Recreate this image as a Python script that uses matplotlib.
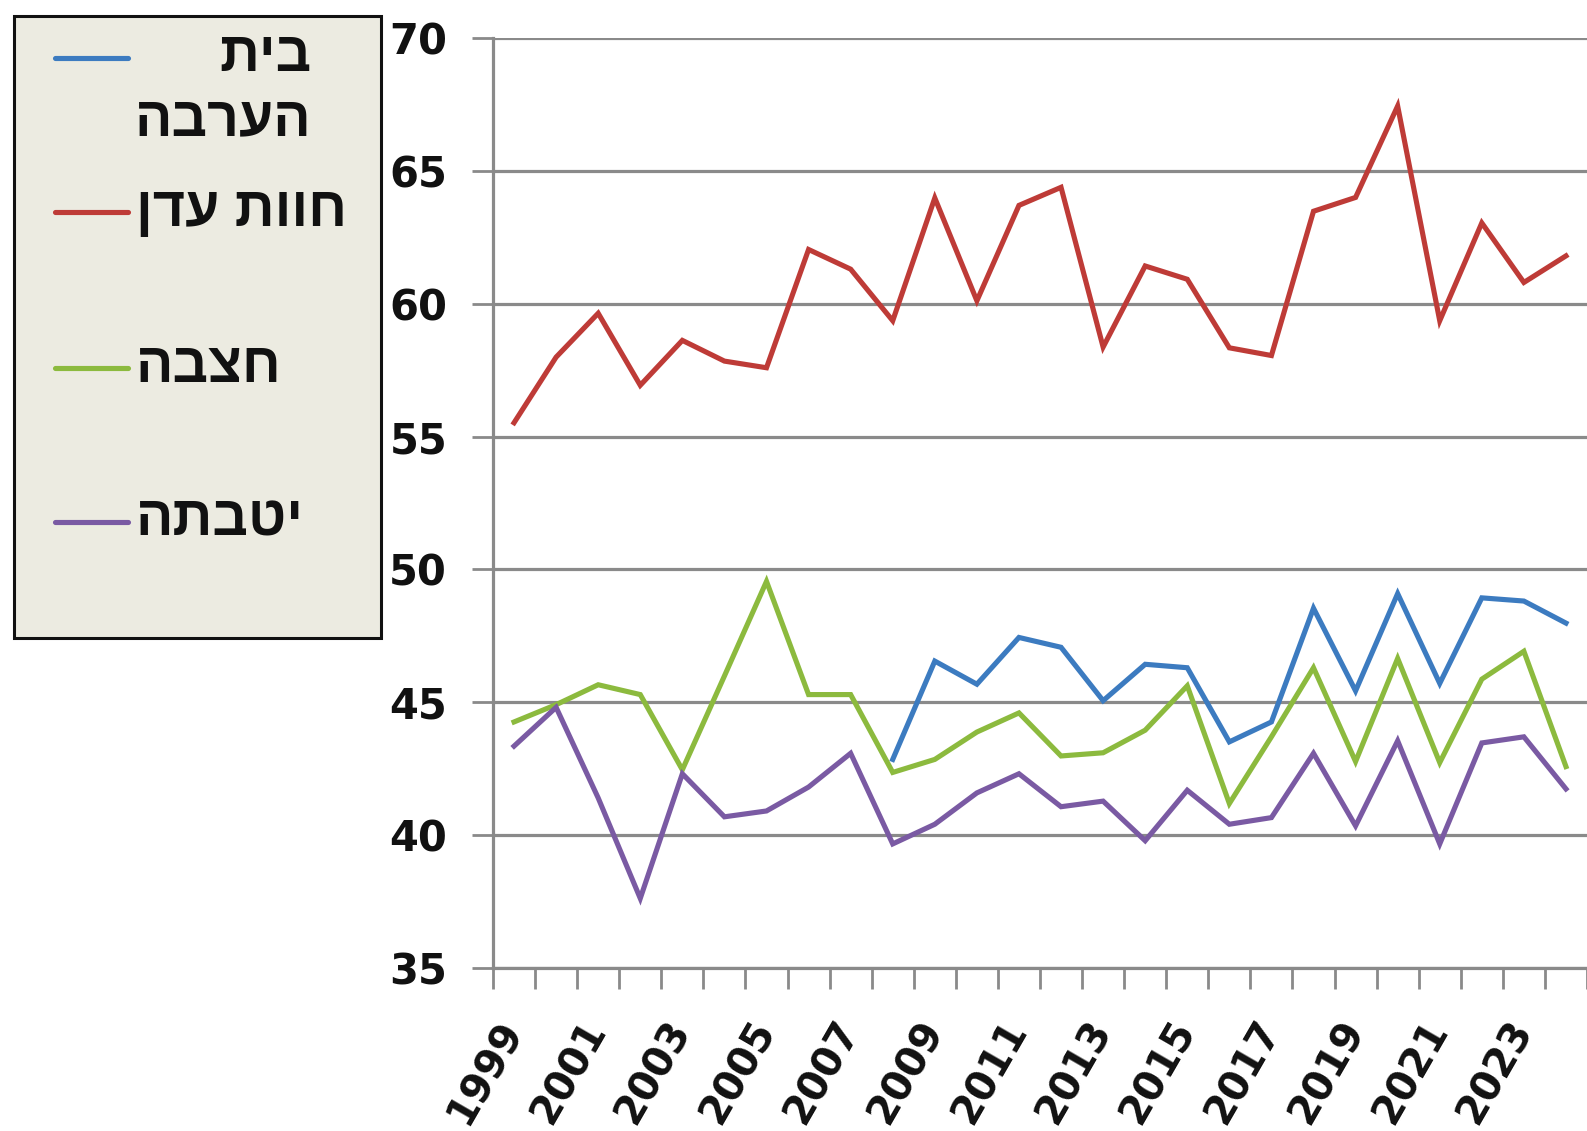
import numpy as np
import matplotlib.pyplot as plt
from matplotlib.lines import Line2D
from matplotlib.patches import Rectangle
from matplotlib.transforms import ScaledTranslation

# data
years = list(range(1999, 2025))
beit_haarava = [np.nan] * 9 + [42.85, 46.55, 45.68, 47.44, 47.07, 45.06, 46.43, 46.30, 43.51,
                               44.26, 48.54, 45.43, 49.09, 45.71, 48.93, 48.81, 47.98]
havat_eden = [55.52, 57.99, 59.64, 56.93, 58.62, 57.84, 57.59, 62.04, 61.30, 59.36, 63.98,
              60.11, 63.70, 64.38, 58.37, 61.42, 60.92, 58.34, 58.05, 63.48, 64.00, 67.44,
              59.36, 63.04, 60.80, 61.80]
hatzeva = [44.26, 44.91, 45.66, 45.29, 42.46, 45.99, 49.55, 45.29, 45.29, 42.36, 42.85,
           43.88, 44.60, 42.98, 43.10, 43.95, 45.62, 41.19, 43.70, 46.30, 42.77, 46.65,
           42.73, 45.87, 46.92, 42.58]
yotvata = [43.35, 44.81, 41.40, 37.62, 42.31, 40.69, 40.91, 41.81, 43.08, 39.67, 40.41,
           41.59, 42.31, 41.07, 41.28, 39.79, 41.69, 40.41, 40.66, 43.08, 40.35, 43.55,
           39.67, 43.47, 43.70, 41.74]

series_names = ["בית\nהערבה", "חוות עדן", "חצבה", "יטבתה"]
series_values = [beit_haarava, havat_eden, hatzeva, yotvata]
series_colors = ["#3c7bc0", "#be3b37", "#8cba3e", "#7a5aa3"]
y_ticks = [35, 40, 45, 50, 55, 60, 65, 70]


def visual(s):
    # matplotlib has no bidi support: reverse each Hebrew line for display
    return "\n".join(line[::-1] for line in s.split("\n"))


W, H = 1587, 1131
fig = plt.figure(figsize=(W / 100, H / 100), dpi=100)
ax = fig.add_axes([493 / W, 1 - 968 / H, 1 - 493 / W, (968 - 38) / H])

x = np.arange(len(years))
for vals, col in zip(series_values, series_colors):
    ax.plot(x, vals, color=col, lw=3.7, solid_joinstyle="miter", zorder=3)

grid_col = "#8a8a8a"
ax.set_ylim(35, 70)
ax.set_xlim(-0.5, len(years) - 0.5)
ax.set_yticks(y_ticks)
ax.set_yticklabels([str(v) for v in y_ticks], fontsize=30, fontweight="bold",
                   fontfamily="DejaVu Sans", color="#111111")
ax.yaxis.grid(True, color=grid_col, lw=2.3)
ax.set_axisbelow(True)

# category boundaries get tick marks, labels sit at every other category centre
ax.set_xticks(np.arange(-0.5, len(years), 1.0))
ax.set_xticklabels([])
ax.set_xticks(x[::2], minor=True)
ax.set_xticklabels([str(y) for y in years[::2]], minor=True, rotation=60,
                   ha="right", va="center", rotation_mode="anchor",
                   fontsize=29, fontweight="bold", fontfamily="DejaVu Sans",
                   color="#111111")
shift = ScaledTranslation(17 / 100, 0, fig.dpi_scale_trans)
for lbl in ax.get_xticklabels(minor=True):
    lbl.set_transform(lbl.get_transform() + shift)
ax.tick_params(axis="x", which="major", length=15, width=2, color=grid_col)
ax.tick_params(axis="x", which="minor", length=0, pad=40)
ax.tick_params(axis="y", length=15, width=2, color=grid_col, pad=18)

for side in ["top", "right"]:
    ax.spines[side].set_visible(False)
for side in ["left", "bottom"]:
    ax.spines[side].set_color(grid_col)
    ax.spines[side].set_linewidth(2.3)

# legend box drawn in figure pixels, as in the source
fig.add_artist(Rectangle((14 / W, 1 - 638 / H), (381 - 14) / W, (638 - 16) / H,
                         transform=fig.transFigure, facecolor="#ecebe1",
                         edgecolor="#111111", lw=2.2, zorder=0))
handle_y = [58, 212, 368, 522]
for name, col, hy in zip(series_names, series_colors, handle_y):
    fig.add_artist(Line2D([55 / W, 128 / W], [1 - hy / H, 1 - hy / H],
                          transform=fig.transFigure, color=col, lw=3.7,
                          solid_capstyle="round"))
    if "\n" in name:
        fig.text(312 / W, 1 - 31 / H, visual(name), ha="right", va="top",
                 multialignment="right", fontsize=40, fontweight="bold",
                 fontfamily="Liberation Sans", linespacing=1.3, color="#111111")
    else:
        fig.text(136 / W, 1 - hy / H, visual(name), ha="left", va="center",
                 fontsize=40, fontweight="bold", fontfamily="Liberation Sans",
                 color="#111111")

fig.savefig("out.png", dpi=100)
